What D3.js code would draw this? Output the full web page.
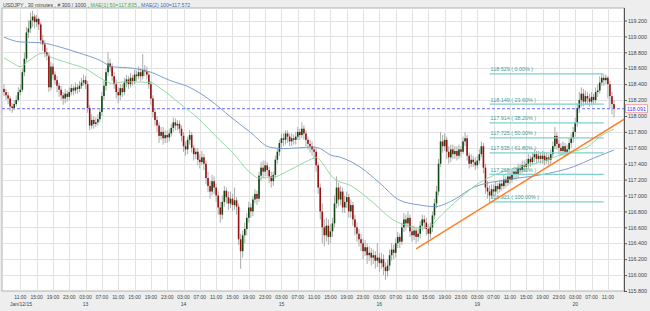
<!DOCTYPE html>
<html>
<head>
<meta charset="utf-8">
<script src="https://cdn.jsdelivr.net/npm/d3@7"></script>
<style>
  body { margin: 0; background: #eeeeee; }
  svg { display: block; font-family: "Liberation Sans", Arial, sans-serif; }
</style>
</head>
<body>
<svg id="chart" width="650" height="311"></svg>
<script>
// USDJPY 30 min candles (Jan 12 07:00 -> Jan 20 12:30)
var firstOpen = 118.34;
var closes = [
  118.30,118.26,118.22,118.12,118.10,118.15,118.20,118.30,118.33,118.55,
  118.72,119.05,119.10,119.20,119.25,119.18,119.22,119.15,118.95,118.90,
  118.80,118.76,118.36,118.62,118.52,118.45,118.38,118.33,118.26,118.22,
  118.28,118.24,118.30,118.35,118.32,118.36,118.34,118.38,118.42,118.45,
  118.40,118.10,117.88,117.95,117.90,117.92,117.96,118.05,118.25,118.38,
  118.55,118.66,118.62,118.50,118.40,118.30,118.26,118.35,118.30,118.42,
  118.46,118.40,118.48,118.44,118.52,118.50,118.55,118.50,118.58,118.56,
  118.52,118.40,118.22,118.05,117.95,117.88,117.75,117.80,117.72,117.76,
  117.73,117.78,117.85,117.92,117.88,117.90,117.84,117.75,117.62,117.58,
  117.70,117.76,117.60,117.52,117.55,117.45,117.42,117.48,117.40,117.22,
  117.12,117.05,117.18,117.10,117.00,116.85,116.76,116.92,117.06,116.98,
  116.90,116.96,116.88,116.94,116.86,116.45,116.30,116.50,116.58,116.72,
  116.85,116.80,116.95,117.02,116.96,117.25,117.35,117.30,117.38,117.32,
  117.24,117.18,117.26,117.45,117.55,117.66,117.72,117.70,117.78,117.74,
  117.68,117.72,117.70,117.74,117.80,117.76,117.84,117.78,117.70,117.65,
  117.62,117.58,117.55,117.38,117.10,116.80,116.60,116.50,116.62,116.48,
  116.55,116.65,116.90,117.10,116.95,117.05,116.85,116.92,116.98,116.80,
  116.88,116.70,116.60,116.52,116.45,116.40,116.30,116.35,116.25,116.28,
  116.22,116.25,116.18,116.22,116.15,116.20,116.10,116.05,116.12,116.25,
  116.32,116.28,116.40,116.48,116.42,116.60,116.70,116.65,116.72,116.55,
  116.50,116.56,116.48,116.52,116.62,116.70,116.66,116.58,116.52,116.60,
  116.75,116.90,117.05,117.40,117.68,117.62,117.70,117.55,117.48,117.58,
  117.52,117.56,117.50,117.58,117.55,117.68,117.72,117.50,117.40,117.45,
  117.42,117.38,117.44,117.52,117.62,117.35,117.10,117.05,117.00,117.08,
  117.05,117.12,117.08,117.15,117.12,117.20,117.16,117.24,117.20,117.26,
  117.30,117.26,117.34,117.32,117.38,117.36,117.40,117.46,117.42,117.48,
  117.52,117.46,117.50,117.46,117.50,117.44,117.48,117.45,117.52,117.62,
  117.75,117.65,117.60,117.56,117.62,117.55,117.58,117.66,117.72,117.80,
  117.92,118.10,118.20,118.28,118.18,118.25,118.22,118.18,118.24,118.20,
  118.30,118.32,118.42,118.48,118.45,118.48,118.40,118.25,118.15,118.091
];
var highs = [
  118.40,118.34,118.30,118.25,118.16,118.20,118.26,118.36,118.40,118.60,
  118.80,119.12,119.20,119.30,119.32,119.28,119.27,119.24,119.18,119.02,
  118.95,118.86,118.80,118.68,118.66,118.56,118.50,118.42,118.38,118.30,
  118.34,118.32,118.36,118.40,118.38,118.42,118.40,118.44,118.48,118.52,
  118.50,118.44,118.14,118.02,118.00,117.98,118.02,118.10,118.30,118.44,
  118.60,118.80,118.72,118.66,118.55,118.46,118.36,118.40,118.40,118.48,
  118.52,118.50,118.54,118.52,118.58,118.57,118.62,118.60,118.78,118.64,
  118.62,118.56,118.44,118.26,118.10,118.00,117.92,117.86,117.86,117.82,
  117.82,117.84,117.90,117.98,117.97,117.95,117.94,117.88,117.80,117.68,
  117.74,117.82,117.80,117.64,117.60,117.60,117.52,117.56,117.52,117.44,
  117.30,117.18,117.26,117.24,117.15,117.05,116.92,117.00,117.12,117.10,
  117.05,117.05,117.02,117.10,116.98,116.90,116.52,116.56,116.66,116.78,
  116.92,116.90,117.00,117.08,117.06,117.30,117.42,117.44,117.44,117.42,
  117.36,117.30,117.30,117.50,117.60,117.70,117.78,117.78,117.82,117.82,
  117.78,117.78,117.77,117.80,117.86,117.84,117.92,117.88,117.82,117.74,
  117.70,117.68,117.62,117.60,117.42,117.15,116.90,116.70,116.72,116.70,
  116.64,116.72,117.00,117.24,117.16,117.12,117.10,117.00,117.05,117.02,
  116.95,116.92,116.76,116.66,116.58,116.52,116.46,116.44,116.40,116.36,
  116.34,116.32,116.30,116.40,116.28,116.28,116.26,116.16,116.20,116.32,
  116.40,116.38,116.46,116.54,116.52,116.66,116.78,116.76,116.80,116.76,
  116.62,116.62,116.60,116.58,116.68,116.76,116.75,116.72,116.64,116.66,
  116.80,116.96,117.12,117.46,117.80,117.76,117.78,117.74,117.62,117.64,
  117.64,117.62,117.62,117.64,117.62,117.74,117.80,117.76,117.54,117.52,
  117.50,117.48,117.50,117.58,117.68,117.66,117.40,117.18,117.12,117.14,
  117.14,117.18,117.16,117.20,117.20,117.26,117.24,117.30,117.30,117.32,
  117.36,117.34,117.40,117.40,117.44,117.44,117.46,117.52,117.50,117.54,
  117.58,117.56,117.56,117.54,117.56,117.55,117.54,117.52,117.58,117.68,
  117.86,117.80,117.70,117.66,117.68,117.66,117.64,117.72,117.78,117.86,
  117.98,118.16,118.30,118.36,118.34,118.32,118.30,118.28,118.30,118.28,
  118.36,118.40,118.50,118.529,118.52,118.52,118.50,118.44,118.30,118.20
];
var lows = [
  118.25,118.20,118.15,118.06,118.04,118.07,118.12,118.18,118.26,118.30,
  118.50,118.68,118.98,119.04,119.12,119.10,119.12,119.08,118.90,118.82,
  118.74,118.70,118.30,118.32,118.46,118.40,118.30,118.24,118.20,118.14,
  118.16,118.18,118.20,118.26,118.26,118.28,118.28,118.30,118.34,118.38,
  118.34,118.04,117.82,117.84,117.84,117.86,117.88,117.92,118.00,118.20,
  118.32,118.50,118.56,118.44,118.34,118.22,118.16,118.20,118.24,118.26,
  118.36,118.34,118.36,118.38,118.40,118.44,118.46,118.44,118.46,118.50,
  118.46,118.34,118.14,117.98,117.88,117.80,117.66,117.70,117.64,117.66,
  117.66,117.68,117.74,117.80,117.82,117.82,117.78,117.68,117.55,117.50,
  117.52,117.64,117.54,117.44,117.46,117.38,117.34,117.38,117.32,117.14,
  117.04,116.96,117.00,117.02,116.92,116.76,116.66,116.70,116.86,116.90,
  116.82,116.84,116.80,116.82,116.76,116.38,116.08,116.22,116.40,116.50,
  116.66,116.72,116.74,116.90,116.88,116.92,117.18,117.22,117.24,117.24,
  117.16,117.10,117.12,117.22,117.40,117.50,117.60,117.62,117.64,117.66,
  117.62,117.62,117.64,117.64,117.70,117.70,117.72,117.70,117.62,117.58,
  117.54,117.50,117.46,117.30,117.02,116.70,116.40,116.36,116.42,116.38,
  116.40,116.48,116.60,116.84,116.86,116.88,116.78,116.78,116.84,116.72,
  116.72,116.62,116.50,116.42,116.36,116.30,116.20,116.24,116.14,116.18,
  116.12,116.14,116.08,116.10,116.04,116.08,116.00,115.94,115.98,116.06,
  116.18,116.20,116.22,116.34,116.34,116.38,116.54,116.56,116.60,116.48,
  116.42,116.44,116.40,116.42,116.46,116.56,116.58,116.50,116.38,116.46,
  116.54,116.70,116.84,117.00,117.36,117.54,117.56,117.46,117.40,117.42,
  117.46,117.46,117.44,117.46,117.48,117.52,117.62,117.44,117.34,117.36,
  117.36,117.32,117.34,117.40,117.48,117.28,117.02,116.96,116.921,116.96,
  116.98,117.00,117.02,117.04,117.06,117.08,117.10,117.12,117.14,117.16,
  117.20,117.20,117.22,117.26,117.28,117.30,117.30,117.34,117.36,117.38,
  117.42,117.40,117.42,117.40,117.40,117.38,117.40,117.38,117.40,117.48,
  117.58,117.58,117.52,117.50,117.50,117.48,117.50,117.52,117.60,117.66,
  117.74,117.86,118.04,118.12,118.12,118.14,118.14,118.12,118.14,118.14,
  118.16,118.24,118.28,118.38,118.38,118.40,118.22,118.10,118.02,117.98
];

// moving averages at candle index
var ma50Idx = [0,4,8,11,14,19,23,31,41,47,53,60,72,76,86,96,104,112,121,125,132,140,150,153,156,161,171,181,191,198,204,209,212,217,224,233,247,263,276,286,292,299];
var ma50Val = [118.73,118.67,118.62,118.67,118.73,118.79,118.74,118.67,118.58,118.48,118.41,118.43,118.42,118.36,118.16,117.95,117.74,117.54,117.28,117.22,117.23,117.32,117.45,117.48,117.41,117.23,117.11,116.91,116.69,116.62,116.59,116.61,116.69,116.82,116.98,117.16,117.32,117.42,117.54,117.61,117.74,117.835];
var ma100Idx = [0,8,18,27,37,47,53,63,72,81,91,101,111,121,130,137,145,151,155,160,165,175,184,194,204,211,220,230,247,263,279,289,299];
var ma100Val = [118.99,118.93,118.92,118.87,118.79,118.70,118.62,118.60,118.55,118.45,118.36,118.20,117.99,117.79,117.61,117.59,117.60,117.61,117.59,117.51,117.48,117.35,117.16,116.94,116.88,116.86,116.94,117.10,117.20,117.26,117.36,117.47,117.572];

var fibLevels = [118.529, 118.149, 117.914, 117.725, 117.535, 117.265, 116.921];
var fibPct = ["0.00%", "23.60%", "38.20%", "50.00%", "61.80%", "78.60%", "100.00%"];
var fibFrom = 238, fibTo = 294;

var trendIdx = [202, 304];
var trendVal = [116.33, 117.96];

var lastPrice = 118.091;

var yTicks = [115.8,116.0,116.2,116.4,116.6,116.8,117.0,117.2,117.4,117.6,117.8,118.0,118.2,118.4,118.6,118.8,119.0,119.2];
var timeTickIdx = [8,16,24,32,40,48,56,64,72,80,88,96,104,112,120,128,136,144,152,160,168,176,184,192,200,208,216,224,232,240,248,256,264,272,280,288,296];
var timeLabels = ["11:00","15:00","19:00","23:00","03:00","07:00","11:00","15:00","19:00","23:00","03:00","07:00",
                  "11:00","15:00","19:00","23:00","03:00","07:00","11:00","15:00","19:00","23:00","03:00","07:00",
                  "11:00","15:00","19:00","23:00","03:00","07:00","11:00","15:00","19:00","23:00","03:00","07:00","11:00"];
var dateTickIdx = [8,40,88,136,184,232,280];
var dateLabels = ["Jan/12/15","13","14","15","16","19","20"];

(function(){
    var svg = d3.select('#chart');
    var L = 2, T = 8, R = 624, B = 291;

    var x = d3.scaleLinear().domain([0, 299]).range([4, 614]);
    var y = d3.scaleLinear().domain([115.8, 119.2]).range([291, 20.5]);

    svg.append('rect').attr('width', 650).attr('height', 311).attr('fill', '#eeeeee');
    svg.append('rect').attr('x', L).attr('y', T).attr('width', R - L).attr('height', B - T)
        .attr('fill', '#fff').attr('stroke', '#b0b0b0').attr('stroke-width', 1);

    svg.append('clipPath').attr('id', 'plotclip').append('rect')
        .attr('x', L).attr('y', T).attr('width', R - L).attr('height', B - T);
    var g = svg.append('g').attr('clip-path', 'url(#plotclip)');

    // grid
    g.selectAll('.hgrid').data(yTicks).enter().append('line')
        .attr('x1', L).attr('x2', R)
        .attr('y1', function(d){ return Math.round(y(d)) + 0.5; })
        .attr('y2', function(d){ return Math.round(y(d)) + 0.5; })
        .attr('stroke', '#e2e2e2');
    g.selectAll('.vgrid').data(timeTickIdx).enter().append('line')
        .attr('y1', T).attr('y2', B)
        .attr('x1', function(d){ return Math.round(x(d)) + 0.5; })
        .attr('x2', function(d){ return Math.round(x(d)) + 0.5; })
        .attr('stroke', '#e2e2e2');

    // last price dashed line
    g.append('line').attr('x1', L).attr('x2', R)
        .attr('y1', y(lastPrice)).attr('y2', y(lastPrice))
        .attr('stroke', '#6a6aff').attr('stroke-width', 1).attr('stroke-dasharray', '3,2');

    // candles
    var candles = closes.map(function(c, i){
        return { i: i, o: i ? closes[i-1] : firstOpen, h: highs[i], l: lows[i], c: c };
    });
    g.selectAll('.wick').data(candles).enter().append('line')
        .attr('x1', function(d){ return x(d.i); })
        .attr('x2', function(d){ return x(d.i); })
        .attr('y1', function(d){ return y(d.h); })
        .attr('y2', function(d){ return y(d.l); })
        .attr('stroke', '#ababab').attr('stroke-width', 1);
    g.selectAll('.body').data(candles).enter().append('rect')
        .attr('x', function(d){ return x(d.i) - 0.8; })
        .attr('width', 1.6)
        .attr('y', function(d){ return y(Math.max(d.o, d.c)); })
        .attr('height', function(d){ return Math.max(0.8, Math.abs(y(d.o) - y(d.c))); })
        .attr('fill', function(d){ return d.c >= d.o ? '#0c4a12' : '#9a1010'; });

    // moving averages
    var line = d3.line().curve(d3.curveMonotoneX)
        .x(function(d){ return x(d[0]); })
        .y(function(d){ return y(d[1]); });
    g.append('path').datum(d3.zip(ma100Idx, ma100Val)).attr('d', line)
        .attr('fill', 'none').attr('stroke', '#6e93cc').attr('stroke-width', 0.9);
    g.append('path').datum(d3.zip(ma50Idx, ma50Val)).attr('d', line)
        .attr('fill', 'none').attr('stroke', '#86d69a').attr('stroke-width', 0.9);

    // fibonacci
    g.selectAll('.fib').data(fibLevels).enter().append('line')
        .attr('x1', x(fibFrom)).attr('x2', x(fibTo))
        .attr('y1', function(d){ return y(d); })
        .attr('y2', function(d){ return y(d); })
        .attr('stroke', '#7fd0cc').attr('stroke-width', 1.3);
    g.selectAll('.fibtxt').data(fibLevels).enter().append('text')
        .attr('x', x(fibFrom) + 1)
        .attr('y', function(d){ return y(d) - 2.5; })
        .attr('font-size', 5.4).attr('fill', '#3a9e9a')
        .text(function(d, i){ return d.toFixed(3) + ' ( ' + fibPct[i] + ' )'; });

    // trend line
    g.append('path').datum(d3.zip(trendIdx, trendVal))
        .attr('d', d3.line().x(function(d){ return x(d[0]); }).y(function(d){ return y(d[1]); }))
        .attr('stroke', '#ff7f2a').attr('stroke-width', 1.5).attr('fill', 'none');

    // right axis
    var yAxis = d3.axisRight(y).tickValues(yTicks).tickFormat(d3.format('.3f')).tickSize(3).tickPadding(1);
    var ya = svg.append('g').attr('transform', 'translate(' + R + ',0)').call(yAxis);
    ya.select('.domain').attr('stroke', '#555').attr('d', 'M0.5,' + T + 'V' + B);
    ya.selectAll('.tick line').attr('stroke', '#555');
    ya.selectAll('.tick text').attr('font-size', 5.4).attr('fill', '#444').attr('font-family', null);

    // last price label
    svg.append('rect').attr('x', 625.5).attr('y', y(lastPrice) - 4).attr('width', 22).attr('height', 8)
        .attr('fill', '#fff').attr('stroke', '#f08a8a').attr('stroke-width', 0.8);
    svg.append('text').attr('x', 636.5).attr('y', y(lastPrice) + 2)
        .attr('text-anchor', 'middle').attr('font-size', 5.4).attr('fill', '#3a3aff')
        .text(lastPrice.toFixed(3));

    // x labels
    svg.selectAll('.tl').data(timeTickIdx).enter().append('text')
        .attr('x', function(d){ return x(d); }).attr('y', 299)
        .attr('text-anchor', 'middle').attr('font-size', 5).attr('fill', '#444')
        .text(function(d, i){ return timeLabels[i]; });
    svg.selectAll('.dl').data(dateTickIdx).enter().append('text')
        .attr('x', function(d, i){ return i ? x(d) : 10; }).attr('y', 306)
        .attr('text-anchor', function(d, i){ return i ? 'middle' : 'start'; })
        .attr('font-size', 5).attr('fill', '#444')
        .text(function(d, i){ return dateLabels[i]; });

    // title
    var title = svg.append('text').attr('x', 3).attr('y', 6.5).attr('font-size', 5.2).attr('fill', '#444');
    title.append('tspan').text('USDJPY , 30 minutes , # 300 / 1000 , ');
    title.append('tspan').attr('fill', '#3fae5e').text('MAE(1) 50=117.835');
    title.append('tspan').text(' , ');
    title.append('tspan').attr('fill', '#3f6fb0').text('MAE(2) 100=117.572');
})();
</script>
</body>
</html>
